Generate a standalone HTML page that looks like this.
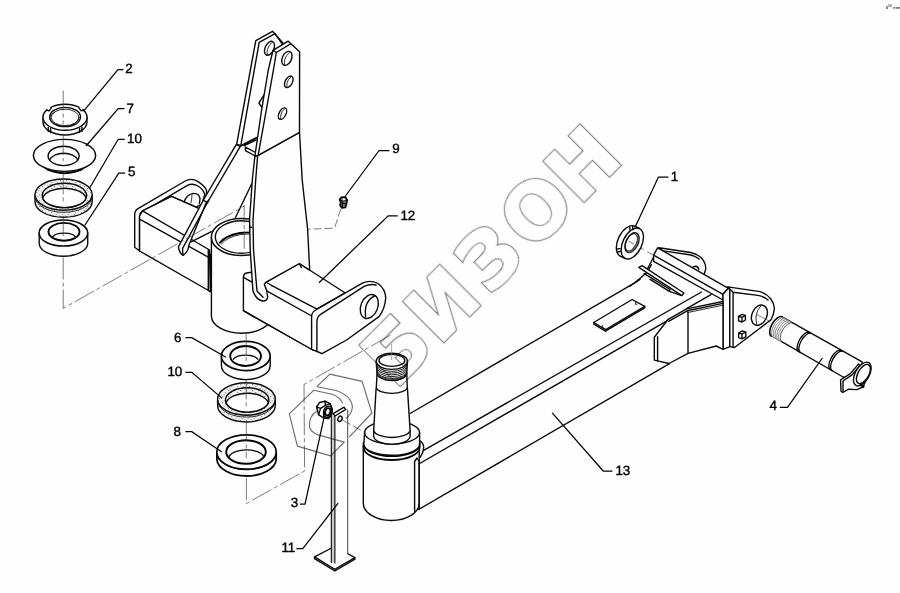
<!DOCTYPE html>
<html><head><meta charset="utf-8"><title>БИЗОН</title>
<style>
html,body{margin:0;padding:0;background:#fefefe;}
body{width:900px;height:593px;overflow:hidden;position:relative;}
svg{position:absolute;left:0;top:0;display:block;}
.k{stroke:#0a0a0a;stroke-width:1.4;fill:none;stroke-linecap:round;stroke-linejoin:round;}
.b{stroke:#000;stroke-width:1.9;fill:none;stroke-linecap:round;stroke-linejoin:round;}
.f{stroke:#0a0a0a;stroke-width:1.4;fill:#fefefe;stroke-linecap:round;stroke-linejoin:round;}
.t{stroke:#1a1a1a;stroke-width:0.9;fill:none;stroke-linecap:round;stroke-linejoin:round;}
.c{stroke:#444;stroke-width:0.7;fill:none;stroke-dasharray:13 3 3 3;}
.l{stroke:#000;stroke-width:1.25;fill:none;}
.w{stroke:#6e6e6e;stroke-width:1.15;fill:none;stroke-linejoin:round;}
.n{font-family:"Liberation Sans",sans-serif;font-size:13.4px;text-rendering:geometricPrecision;fill:#000;stroke:#000;stroke-width:0.4;}
.wm{font-family:"DejaVu Sans","Liberation Sans",sans-serif;font-weight:bold;font-size:78px;fill:none;stroke:#858585;stroke-width:0.9;}
</style></head><body>
<svg width="900" height="593" viewBox="0 0 900 593">
<rect width="900" height="593" fill="#fefefe"/>
<!--DEFS-->
<defs>
<pattern id="stip" width="6" height="6" patternUnits="userSpaceOnUse">
<rect width="6" height="6" fill="#f1f1f1"/>
<rect x="0" y="0" width="1.2" height="1.2" fill="#8c8c8c"/><rect x="3" y="2" width="1.2" height="1.2" fill="#9c9c9c"/><rect x="1.6" y="4" width="1.2" height="1.2" fill="#a4a4a4"/><rect x="4.6" y="4.8" width="1" height="1" fill="#b4b4b4"/><rect x="4.4" y="0.6" width="1" height="1" fill="#fff"/>
</pattern>
</defs>

<!--BRACKET-->
<g id="bracket">
<!-- left box + lug -->
<!-- lug plate (behind box) -->
<path class="f" d="M134.7 247.2 L134.7 214.5 Q134.7 210.6 138 208.6 L185.2 181 Q191.5 177.4 198 181.6 Q205 186 206.6 190.6 L206 202 L196 207.2 L171.5 196.3 L142.5 210.8 L139.6 216 L139.6 251 Z"/>
<path class="k" d="M139.6 216 L139.6 251 M140 213.4 L187 185.6 Q192.5 182.8 198 186 Q203.5 189.6 204.9 194.6 L203 200"/>
<!-- hole in lug -->
<path class="k" d="M184.6 200.8 Q187 194.5 193.3 193.4 Q199.5 193.4 200 198.8 L199.4 203.5"/>
<path class="t" d="M192 194.7 Q191.8 199.5 191 202.8"/>
<!-- box top face -->
<path class="f" style="stroke:none" d="M142.5 210.8 L171.5 196.3 L196 207.2 L211.3 231.7 L209.9 250 L181.6 234.4 Z"/>
<path class="k" d="M142.5 210.8 L171.5 196.3 L198 208"/>
<!-- box side face -->
<path class="f" d="M139.6 216 L142.5 210.8 L209.6 250 L208.5 290.5 L139.6 251 Z"/>
<path class="k" d="M140.5 219.6 L208.6 257.3"/>
<path class="k" d="M191.1 241.8 L211.3 231.7"/>
<path class="k" d="M208.3 250 L208.3 290 M210.4 254 L210.4 291.8 L208.3 290.5"/>
<!-- right box / step block behind cylinder front plate -->
<!-- cylinder -->
<path class="f" d="M211.4 237 L211.4 316 A30.2 17.2 0 0 0 271.8 316 L271.8 237 Z"/>
<ellipse class="f" cx="241.3" cy="237" rx="29.9" ry="18.6" style="stroke-width:1.5"/>
<ellipse class="k" cx="241.3" cy="237" rx="26" ry="16.3"/>
<path class="b" d="M220 242.7 Q226 235.5 240 233 Q247 232.2 253 232.4"/>
<path class="t" d="M221.4 244 Q227 237 240.5 234.6 Q247 233.8 253 234"/>
<!-- gusset diagonal and hidden edges -->
<path class="k" d="M235.4 217.8 L251.6 184"/>
<!-- step block -->
<path class="f" d="M243.4 277 Q243.6 273.6 246.5 273 L251.5 272.2 L258 284 L264.3 284.4 L275 300 L312.9 350 L243.4 310.7 Z"/>
<path class="k" d="M244 277.6 L252.4 282.4"/>
<!-- right box top face -->
<path class="f" d="M265.7 282.4 L299.4 263.5 L345.3 293 L317 309.2 Z"/>
<path class="k" d="M299.4 263.5 L301.4 267.5"/>
<!-- right box front band -->
<path class="f" d="M265.7 282.4 L312.2 313.9 L312.2 350 L266 322 L262 300 Z" style="stroke:none"/>
<path class="k" d="M265.8 290.4 L311.8 316"/>
<path class="k" d="M243.4 310.7 L312.9 350"/>
<path class="b" d="M317 309.2 L345.3 293"/>
<path class="t" d="M318 310.6 L346 294.6"/>
<!-- right lug -->
<path class="f" d="M311.6 349.4 L311.6 317 Q311.6 312.5 315 310.5 L362.8 282.9 Q370.5 279.5 378 283.5 Q385.5 289 385.7 298 Q385 309 379 316.6 L346.6 340 L322 353.6 L318.3 352 Z"/>
<path class="k" d="M316.9 351.5 L316.9 322 Q317 316.5 321 314.2 L364.2 286.3 Q370 283.6 376 285"/>
<ellipse class="k" cx="369.3" cy="306.5" rx="8.4" ry="12.4" transform="rotate(22 369.3 306.5)"/>
<path class="k" d="M374.5 296 Q368.5 298.5 366 306 Q364.6 311.5 365.6 316.5"/>
<!-- lower trapezoid of upright (front) -->
<path class="f" d="M254.9 156 L258.1 155.4 L299.5 132.3 L302.2 180 L307.6 229 L309.7 270.2 L299.4 263.5 L265.7 282.4 L264.3 284.4 Q267.2 290 267.7 297.2 Q266.5 301.3 263 301 Q258.5 300.6 255.5 296 Q253 292.5 252.9 290.4 L250.2 250 L249.6 219 L252.3 180 Z"/>
<path class="k" d="M257.6 156 L255.7 180 L253 220.4 L253.5 250 L257 291 L263 297.2 M249.6 227.2 L251.6 227.2"/>
<!-- back plate -->
<path class="f" d="M255.8 40.7 L272.5 31.3 L283.1 43.2 L277 52 L260 137.5 L256.5 137.5 L240.8 145.7 L236.7 144.2 Z"/>
<path class="k" d="M259.2 42.4 L240.8 145.7 M259.2 42.4 L275.1 33.6 L282.3 44"/>
<ellipse class="k" cx="269.5" cy="48.3" rx="4.4" ry="7.4" transform="rotate(25 269.5 48.3)"/>
<path class="t" d="M272 42.4 Q268.6 45 267.4 49.5 Q266.8 52.5 267.3 54.6"/>
<path class="f" d="M264.9 93.6 L258.9 103 L262.3 107.8 Z"/>
<!-- small box at base of back plate -->
<path class="k" d="M241 146 L256.6 138 M244 145.8 L256.2 139.8 M245.4 147.2 L245.4 150.6 L255.2 156 M245.4 147.2 L254.6 152"/>
<!-- front plate -->
<path class="f" d="M273 50.4 L288.2 41.2 L299.6 51.8 L299.5 132.3 L258.1 155.4 L254.9 156 L261.6 110 L268.3 70 Z"/>
<path class="k" d="M276.3 52.5 L273.4 70 L266.3 110 L258.1 155.4 M276.3 52.5 L290.6 43.8 M273 50.4 L276.3 52.5"/>
<ellipse class="k" cx="286.9" cy="58.4" rx="4.6" ry="7.4" transform="rotate(25 286.9 58.4)"/>
<path class="t" d="M289.5 52.6 Q286 55 284.8 59.5 Q284.2 62.5 284.6 64.6"/>
<ellipse class="k" cx="288.8" cy="81.8" rx="3.6" ry="6.2" transform="rotate(28 288.8 81.8)"/>
<path class="t" d="M290.6 77.2 Q288 79 287 83 Q286.6 85.4 287 87"/>
<ellipse class="k" cx="282.5" cy="113.7" rx="3.4" ry="6.2" transform="rotate(28 282.5 113.7)"/>
<path class="t" d="M284.3 109 Q281.7 111 280.8 115 Q280.4 117.4 280.8 119"/>
<!-- strap -->
<path class="f" d="M236.2 144.6 L240.3 146.3 L208.9 200 L206 203 L188.8 245.5 Q188 252.5 183 255.3 Q179.3 253 178.4 246.8 L203.4 200 Z"/>
<path class="k" d="M203.2 200.4 L208 202.4 M208.9 200 L182.6 248.4 Q182.4 252.5 183.2 255"/>
</g>

<!--LEFTSTACK-->
<g id="leftstack">
<!-- nut 2 -->
<path class="f" d="M43 117.3 L43 122 A22 13 0 0 0 87 122 L87 117.3 Z"/>
<ellipse class="f" cx="65" cy="117.3" rx="22" ry="13"/>
<ellipse class="k" cx="65.1" cy="117" rx="15.4" ry="9.6"/>
<ellipse class="t" cx="65.1" cy="117.4" rx="13.9" ry="8.2"/>
<path class="t" d="M53.5 123.5 A13 7.5 0 0 1 55 112 M72 124.6 A13.5 7.8 0 0 0 78.5 118"/>
<path class="k" d="M48.3 127.3 v4.2 M50.6 128.4 v4.4 M79.6 128.2 v4.4 M82 127 v4.4"/>
<path class="f" style="stroke:none" d="M46.5 108.2 l3 -1.8 l1.6 2.2 l-3 2 z M80 107 l3 1.8 l-1.6 2.2 l-3 -2 z"/>
<path class="k" d="M46.7 110 l2.4 0.8 l2 -2.4 M79.2 108.4 l2 2.4 l2.4 -0.8"/>
<!-- washer 7 -->
<path class="f" d="M33.4 155.4 L34.4 158.6 Q38 165 50 170.6 Q64.5 176.4 79 170.6 Q91 165 94.6 158.6 L95.6 155.4 Z"/>
<path class="b" d="M47 169.6 Q64.5 176.8 82 169.6" style="stroke-width:1.6"/>
<ellipse class="f" cx="64.5" cy="155.4" rx="31.1" ry="16"/>
<ellipse class="k" cx="63.6" cy="155.9" rx="15.5" ry="9.7"/>
<path class="k" d="M49.6 160 A14.6 9.2 0 0 1 77.8 160"/>
<!-- ring 10 -->
<path class="f" d="M35 195.3 L35 201.8 A28.6 15.5 0 0 0 92.2 201.8 L92.2 195.3 Z" style="fill:url(#stip)"/>
<path class="t" d="M35.2 198.6 A28.6 15.5 0 0 0 92 198.6"/>
<ellipse class="f" cx="63.6" cy="194.6" rx="28.6" ry="15.6" style="fill:url(#stip)"/>
<ellipse class="f" cx="64.4" cy="195.4" rx="22.2" ry="12.2" style="fill:url(#stip)"/>
<path class="f" d="M42.67 197.9 A22.2 12.2 0 0 1 86.13 197.9 A22.2 12.2 0 0 1 42.67 197.9 Z"/>
<!-- bearing 5 -->
<path class="f" d="M39.2 233 L39.2 244 A24.3 13.1 0 0 0 87.7 244 L87.7 233 Z"/>
<ellipse class="f" cx="63.4" cy="233" rx="24.3" ry="13.1" style="stroke-width:1.5"/>
<ellipse class="b" cx="64" cy="231.8" rx="15.5" ry="8.9"/>
<path class="k" d="M52.3 237.4 A12 5.4 0 0 1 75.8 237.4"/>
</g>

<!--LOWERSTACK-->
<g id="lowerstack">
<!-- bearing 6 -->
<path class="f" d="M221.4 356 L221.4 365.4 A24.4 14.2 0 0 0 270.2 365.4 L270.2 356 Z"/>
<ellipse class="f" cx="245.8" cy="356" rx="24.4" ry="14.6" style="stroke-width:1.7"/>
<ellipse class="b" cx="245.6" cy="356" rx="15.4" ry="10" style="stroke-width:1.9"/>
<path class="k" d="M233.4 359.2 A13 6.3 0 0 1 257.8 359.2"/>
<!-- ring 10 lower -->
<path class="f" d="M217.6 399.4 L217.6 405.6 A28.85 16.4 0 0 0 275.3 405.6 L275.3 399.4 Z" style="fill:url(#stip)"/>
<path class="t" d="M217.8 402.6 A28.85 16.4 0 0 0 275.1 402.6"/>
<ellipse class="f" cx="246.45" cy="399" rx="28.85" ry="16.2" style="fill:url(#stip)"/>
<ellipse class="f" cx="247.2" cy="399.9" rx="21.7" ry="12.2" style="fill:url(#stip)"/>
<path class="f" d="M226.06 402.65 A21.7 12.2 0 0 1 268.34 402.65 A21.7 12.2 0 0 1 226.06 402.65 Z"/>
<!-- ring 8 -->
<path class="f" d="M216.9 452 L216.9 459.6 A29.7 17.4 0 0 0 276.2 459.6 L276.2 452 Z" style="stroke-width:1.8"/>
<path class="b" d="M217.4 455.6 A29.7 17.2 0 0 0 275.7 455.6" style="stroke-width:1.4"/>
<ellipse class="f" cx="246.5" cy="452" rx="29.7" ry="17.2" style="stroke-width:1.7"/>
<ellipse class="b" cx="246" cy="452" rx="19.8" ry="11.8"/>
<path class="k" d="M229 457 A17.5 8 0 0 1 263.4 456"/>
</g>

<!--BEAM-->
<g id="beam">
<!-- beam body -->
<path class="f" style="stroke:none" d="M410.1 413.5 L639.5 280 L653.6 255.2 L723 294.3 L723 349.3 L669.5 363.7 L418.5 509.5 L416 462 Z"/>
<path class="k" d="M410.1 413.5 L630 285.6 Q636 282.4 640 279.5"/>
<path class="k" d="M423.7 450.3 L701.5 292"/>
<path class="k" d="M419.7 463.5 L667.8 320.4 M686.6 308.6 L711 294.6"/>
<path class="k" d="M418.5 509.5 L669.5 363.7"/>
<!-- small plate on top -->
<path class="f" d="M593.7 322.5 L632.1 299.5 L644.7 306.3 L644.7 307.8 L605.4 331.2 L593.9 324.2 Z"/>
<path class="k" d="M593.7 322.5 L605.8 329.6 L644.7 306.3 M605.8 329.6 L605.6 331"/>
<path class="t" d="M602.5 325.6 L602.7 327.4 M635.5 302.4 L635.3 304.4 L637 304.2"/>
<!-- spindle body cylinder -->
<path class="f" d="M363.3 446 L363.3 503.2 A27.95 17.3 0 0 0 419.2 503.2 L419.2 446 Z"/>
<path class="k" d="M414.6 511.4 L414.6 461.5 L417 458 L419.2 461.5 L419.2 509.5"/>
<!-- groove arcs -->
<path class="f" style="stroke-width:1.9" d="M363.6 447.6 A28 12.4 0 0 0 419.6 447.6 L419.6 443 L363.6 443 Z"/>
<path class="b" d="M364.2 445.6 A27.8 11.7 0 0 0 419.6 445.6" style="stroke-width:1.4"/>
<!-- bump -->
<path class="k" d="M419 440.2 Q423.8 443 423.7 447.6 Q423.4 453 420.2 457.4"/>
<!-- flange -->
<path class="f" d="M364.6 432.5 L363.8 444.4 A27.9 11.2 0 0 0 419.6 443.8 L419.6 432.5 Z"/>
<ellipse class="f" cx="392.1" cy="432.5" rx="27.5" ry="11.6"/>
<!-- collar -->
<path class="f" d="M373.7 430.3 L373.7 436.6 A18.3 8.6 0 0 0 410.1 436.6 L410.1 430.3 Z"/>
<!-- taper -->
<path class="f" d="M376.1 388.5 L373.7 430.3 A18.3 8.1 0 0 0 410.1 430.3 L407.4 387.9 Z"/>
<!-- neck -->
<path class="f" d="M377.1 372.5 L376.3 388 A15.7 6.6 0 0 0 407.3 387.6 L406.7 372.5 Z"/>
<!-- thread -->
<path class="f" d="M376.2 361.5 L377.1 373.2 A14.8 7.4 0 0 0 406.7 373 L407.4 361.5 Z" style="stroke-width:1.5"/>
<path class="t" d="M376.4 363.6 A15.4 7.8 0 0 0 407.2 363.6 M376.5 365.4 A15.3 7.7 0 0 0 407.1 365.4 M376.6 367.2 A15.2 7.6 0 0 0 407 367.2 M376.7 369 A15.1 7.6 0 0 0 406.9 369 M376.8 370.8 A15 7.5 0 0 0 406.8 370.8 M376.9 372.4 A15 7.5 0 0 0 406.8 372.4" style="stroke:#222;stroke-width:1"/>
<ellipse class="f" cx="391.8" cy="361.3" rx="15.6" ry="8.1"/>
<ellipse class="k" cx="391.9" cy="360.4" rx="12.9" ry="6"/>
</g>

<!--PIN-->
<g id="beamend">
<!-- back lug (behind end bar) -->
<path class="f" d="M659 247.8 L690.7 252.5 Q699.5 254.6 703.5 260.6 Q706.4 265.5 705.5 270 L703.5 276 L690 272 Z"/>
<path class="k" d="M661.5 250.6 L689.5 254.8 Q695.5 256 699 259"/>
<path class="k" d="M691.6 271 Q691.8 266.4 695.4 266.2 Q698.4 266.4 698.8 269.6"/>
<!-- inner slanted bar -->
<path class="k" d="M653.6 257 L647.5 268.8 M651.5 264.5 L647.8 271.5 Q640 279 630 286.2"/>
<path class="f" d="M638.8 267.4 L642.1 265.6 L683.9 293 L681.9 295.7 Z"/>
<path class="k" d="M644.2 273.6 L670 289.5 L669.4 291.4 M650 279.4 L669.4 291.4 L681 295.4"/>
<!-- end bar -->
<path class="f" d="M657.6 247.8 L728.4 288.3 L723 294.3 L723 300 L653.6 261.3 L653.6 255.2 Z"/>
<path class="k" d="M653.6 255.2 L723 294.3"/>
<path class="f" d="M723 294.3 L728.4 288.3 L729.8 289.5 L729.8 346.6 L723 349.3 Z"/>
<!-- gusset -->
<path class="f" d="M654.3 337.2 L667.8 319.7 L686.6 308.9 L723 301.5 L723 349.3 L716.3 346 L688 353.4 L669.1 363.5 L654.3 360.1 Z"/>
<path class="k" d="M657.6 336.8 L657.6 360.8 M688 311.6 L688 353.4 M668.6 321.4 L687.2 310.8 L723 303.4"/>
<path class="t" d="M687.4 312.6 L723 305.2"/>
<!-- front lug plate -->
<path class="f" d="M727.8 286.9 L760.1 291.6 Q767 294 770.9 299 Q774.6 304 774.3 309.1 Q773.6 315.5 770.9 319.9 L734.5 347.5 L729.8 346.6 L729.8 289.2 Z"/>
<path class="k" d="M733.1 292.2 L733.1 347 M727.8 286.9 L733.1 292.2 L758 295.4 Q764 296.6 768 300"/>
<ellipse class="k" cx="759.4" cy="315.2" rx="7.4" ry="10.6" transform="rotate(24 759.4 315.2)"/>
<path class="t" d="M761 305.6 Q757 310 756 316 Q755.6 321 757 324.8"/>
<path class="k" d="M738.6 316.4 L742 314.4 L745.4 315.4 L745.4 320 L742 322 L738.6 320.8 Z M738.6 316.4 L742 317.4 L745.4 315.4 M742 317.4 L742 322"/>
<path class="k" d="M738.6 333 L742 331 L745.8 332 L745.8 336.8 L742 338.8 L738.6 337.6 Z M738.6 333 L742 334 L745.8 332 M742 334 L742 338.8"/>
</g>
<g id="pin4">
<path class="c" d="M757 314.6 L770 321.4" style="stroke-dasharray:none;stroke:#555"/>
<!-- body -->
<path class="f" d="M782.1 316.9 L862.1 361.8 L862 386 L843.1 377 L771.3 335.6 Z"/>
<!-- lock tab -->
<path class="f" d="M858.7 363.9 L850.3 373.6 L840.6 379.9 L841 391.3 L842.7 392.5 L848.6 389.2 L857 389.6 L863 387 L866 380 Z"/>
<path class="k" d="M860.2 365.4 L852 374.8 L843 381 L843 391.6"/>
<!-- head -->
<ellipse class="f" cx="862.3" cy="374" rx="7" ry="13" transform="rotate(29.6 862.3 374)"/>
<ellipse class="k" cx="863.4" cy="374" rx="5.4" ry="10.6" transform="rotate(29.6 863.4 374)"/>
<path class="b" d="M860.6 385 L863.4 386.4" style="stroke-width:2.4"/>
<!-- thread end -->
<g transform="translate(776.7 326.5) rotate(29.6)">
<path class="f" d="M0 -11 A5.1 11 0 0 0 0 11 L12 11 A5.1 11 0 0 1 12 -11 Z" style="stroke:none"/>
<path class="b" d="M0 -11 A5.1 11 0 0 0 0 11" style="stroke-width:1.5"/>
<path class="t" style="stroke:#666;stroke-width:0.7" d="M2 -11 A5.1 11 0 0 0 2 11 M4 -11 A5.1 11 0 0 0 4 11 M6 -11 A5.1 11 0 0 0 6 11 M8 -11 A5.1 11 0 0 0 8 11 M10 -11 A5.1 11 0 0 0 10 11"/>
<path class="k" d="M12 -11 A5.1 11 0 0 0 12 11" style="stroke:#444;stroke-width:0.8"/>
<path class="b" d="M31.5 -11 A5.1 11 0 0 0 31.5 11 M33.5 -11 A5.1 11 0 0 0 33.5 11" style="stroke-width:1.3"/>
<path class="b" d="M68 -11 A5.1 11 0 0 0 68 11 M70 -11 A5.1 11 0 0 0 70 11" style="stroke-width:1.3"/>
</g>
</g>
<g id="nut1">
<ellipse class="f" cx="627.5" cy="241.2" rx="9.5" ry="16.6" transform="rotate(25.5 627.5 241.2)"/>
<path class="f" style="stroke:none" d="M634.6 226.2 L639.4 228.5 L625.2 258.5 L620.4 256.2 Z"/>
<path class="k" d="M634.6 226.2 L639.4 228.5 M620.4 256.2 L625.2 258.5"/>
<ellipse class="f" cx="632.3" cy="243.5" rx="9.5" ry="16.6" transform="rotate(25.5 632.3 243.5)"/>
<ellipse class="k" cx="632" cy="242.6" rx="6.1" ry="10.5" transform="rotate(25.5 632 242.6)"/>
<ellipse class="t" cx="631.4" cy="242.4" rx="5" ry="9.2" transform="rotate(25.5 631.4 242.4)"/>
<path class="t" style="stroke:#555;stroke-width:1.6" d="M637.4 236.4 Q639 241 635.6 247 Q633 251 629.6 252.4"/>
<path class="k" d="M629.6 227.2 L630.2 230.6 M632.6 226.6 L633 229.8 M617 249 L620.2 248.6 M617.6 252 L620.6 251.4"/>
</g>

<!--POST-->
<g id="post">
<!-- base plate -->
<path class="f" d="M314.5 556.9 L334.6 546.5 L354.9 557.6 L354.9 559.2 L334.8 571 L314.5 558.6 Z"/>
<path class="k" d="M314.5 556.9 L334.8 569.4 L354.9 557.6"/>
<!-- post -->
<path class="f" style="stroke:none" d="M331.4 416 L347.7 408 L347.7 555 L334.6 563 L331.4 562 Z"/>
<path d="M331.3 416 H334.9 V562.6 H331.3 Z" fill="#c8c8c8"/><path class="k" d="M331.3 415.5 L331.3 562.4 M334.9 416 L334.9 563" style="stroke-width:1.1"/>
<path class="k" d="M347.7 410 L347.7 554" style="stroke:#333;stroke-width:0.9"/>
<!-- cotter pin -->
<path class="f" d="M333.2 413.6 L344 407.2 L345.8 409.4 L335 416 Z"/>
<ellipse class="f" cx="340" cy="418.8" rx="2" ry="2.8" transform="rotate(25 340 418.8)"/>
<!-- nut 3 -->
<path class="f" style="fill:#fefefe;stroke-width:1.5" d="M316.6 407 L319.5 402.6 L325 401.2 L330 403.6 L332.4 409 L331.8 414.5 L328.5 418.6 L323.5 418 L318.6 414.6 Z"/>
<path class="k" d="M318.6 414.6 L320.6 408.4 L325.4 405.4 L330 403.6 M320.6 408.4 L316.6 407 M325.4 405.4 L325 401.2 M323.5 418 L324.2 412"/>
<ellipse class="b" cx="327.8" cy="411.8" rx="2.6" ry="3.7" transform="rotate(20 327.8 411.8)"/>
<ellipse class="k" cx="327.8" cy="411.8" rx="4.2" ry="5.8" transform="rotate(20 327.8 411.8)"/>
</g>

<!--CENTERLINES-->
<g id="centerlines">
<path class="c" d="M63.2 90.6 V124 M63.2 135 V161 M63.2 174.4 V203 M63.2 216 V238" style="stroke-dasharray:20 3 4 3"/>
<path class="c" d="M63.2 257.6 V308.4 L244.4 206" style="stroke-dasharray:22 3 4 3"/>
<path class="c" d="M244.2 205 V249" style="stroke-dasharray:18 2 4 2"/>
<path class="c" d="M246.2 334 V361 M246.2 379.4 V408 M246.3 421.6 V458" style="stroke-dasharray:20 3 4 3"/>
<path class="c" d="M246.4 478 V503.5 L304.6 471 L304 384.5 L391.6 334.5" style="stroke-dasharray:22 3 4 3"/>
<path class="c" d="M391.6 344 V360" style="stroke:#888;stroke-dasharray:none"/>
<path class="c" d="M340.7 209 L334.6 228.1 L308.3 229.3" style="stroke-dasharray:8 3"/>
<path class="c" d="M628.6 241.1 L634.1 244.1 M640.4 247.9 L643.6 249.6 M647.2 251.6 L653.9 255.4" style="stroke-dasharray:none"/>
<path class="c" d="M342.6 420 L366 433.2" style="stroke-dasharray:9 3"/>
</g>

<!--LABELS-->
<filter id="gs" x="0" y="0" width="900" height="593" filterUnits="userSpaceOnUse" color-interpolation-filters="sRGB"><feColorMatrix type="saturate" values="0"/></filter>
<g id="labels" filter="url(#gs)">
<path class="l" d="M123.4 69.6 H118 L84.2 110.3"/>
<path class="l" d="M124.4 108.6 H118.2 L86 146"/>
<path class="l" d="M124.6 139.3 H118.2 L89.6 188"/>
<path class="l" d="M125 173.1 H118.8 L84.7 225.5"/>
<path class="l" d="M389.4 150.5 H379.1 L344.7 197"/>
<path class="l" d="M397.8 215.8 H388.2 L319 282.8"/>
<path class="l" d="M668.4 177.1 H658.4 L635.4 226.6"/>
<path class="l" d="M185.4 337.7 H191.8 L226 357.2"/>
<path class="l" d="M185.4 372.3 H191.8 L222.2 398.4"/>
<path class="l" d="M185.4 431.7 H191.8 L221.8 452"/>
<path class="l" d="M299.8 504.2 H305 L323.8 418.6"/>
<path class="l" d="M296.4 548.6 H302.8 L338.1 503.2"/>
<path class="l" d="M612.4 471 H603.2 L552.2 412.9"/>
<path class="l" d="M779.8 407.3 H787.5 L822.4 358"/>
<text class="n" x="125.3" y="73.3">2</text>
<text class="n" x="126.6" y="112.5">7</text>
<text class="n" x="127" y="142.6">10</text>
<text class="n" x="127.9" y="176">5</text>
<text class="n" x="392.2" y="153.3">9</text>
<text class="n" x="400.4" y="219.6">12</text>
<text class="n" x="670.8" y="180.8">1</text>
<text class="n" x="173.9" y="342.1">6</text>
<text class="n" x="167.4" y="376.4">10</text>
<text class="n" x="173.6" y="435.5">8</text>
<text class="n" x="290.8" y="507.3">3</text>
<text class="n" x="281.4" y="552">11</text>
<text class="n" x="615.4" y="474.8">13</text>
<text class="n" x="769.6" y="410.4">4</text>
<text x="885.8" y="8.6" style="font-family:'Liberation Sans',sans-serif;font-size:4.6px;font-weight:bold;fill:#333">s</text>
<text x="888.3" y="6.7" style="font-family:'Liberation Sans',sans-serif;font-size:3.2px;font-weight:bold;fill:#555">00</text>
<text x="893.2" y="8.5" style="font-family:'Liberation Sans',sans-serif;font-size:4.4px;font-weight:bold;fill:#333">eee</text>
</g>
<g id="fitting9">
<path class="f" style="stroke-width:1.6;fill:#777" d="M339.6 199.6 L341.6 197 L345.6 197.2 L347.2 199.8 L346.6 203.4 L345.4 207.4 L341.8 208 L340 205.4 L340.6 202.6 Z"/>
<path class="k" style="stroke-width:1.3" d="M339.6 199.6 L342.6 201.2 L347 200.2 M340.6 203 L346.4 203.6 M342.6 201.2 L342.2 207.6"/>
<path d="M342.6 198.6 l2.4 0.2 l0.4 1.4 l-2.4 0.2 z" fill="#fefefe"/>
</g>

<!--WATERMARK-->
<g id="watermark" style="mix-blend-mode:multiply">
<g transform="rotate(-45)"><text class="wm" x="3.8 65.6 136.6 197.8 263.9" y="555" style="font-size:77px;stroke-width:3.45;stroke:#7a7a7a;stroke-linejoin:miter">БИЗОН</text>
<text class="wm" x="3.8 65.6 136.6 197.8 263.9" y="555" style="font-size:77px;stroke-width:1.35;stroke:#fff;fill:#fff;stroke-linejoin:miter">БИЗОН</text></g>
<path class="w" d="M316.8 386.7 L329.8 374.1 L362.1 381.4 L371.9 413 L349.2 437.2 M316.8 386.7 L336 390.5 Q351 395.5 352.4 406.5 Q352 414 346 418.5"/>
<path class="w" d="M316.8 411.3 Q308.5 416 309.5 427.5 Q312.5 434 320.9 435.6 L344.3 442.1 L330.6 455.9 L297.4 446.1 L289.3 413.8 L313.6 390.3 L332.2 394.3 Q340 397 342.6 403.5"/>
</g>

</svg>
</body></html>
